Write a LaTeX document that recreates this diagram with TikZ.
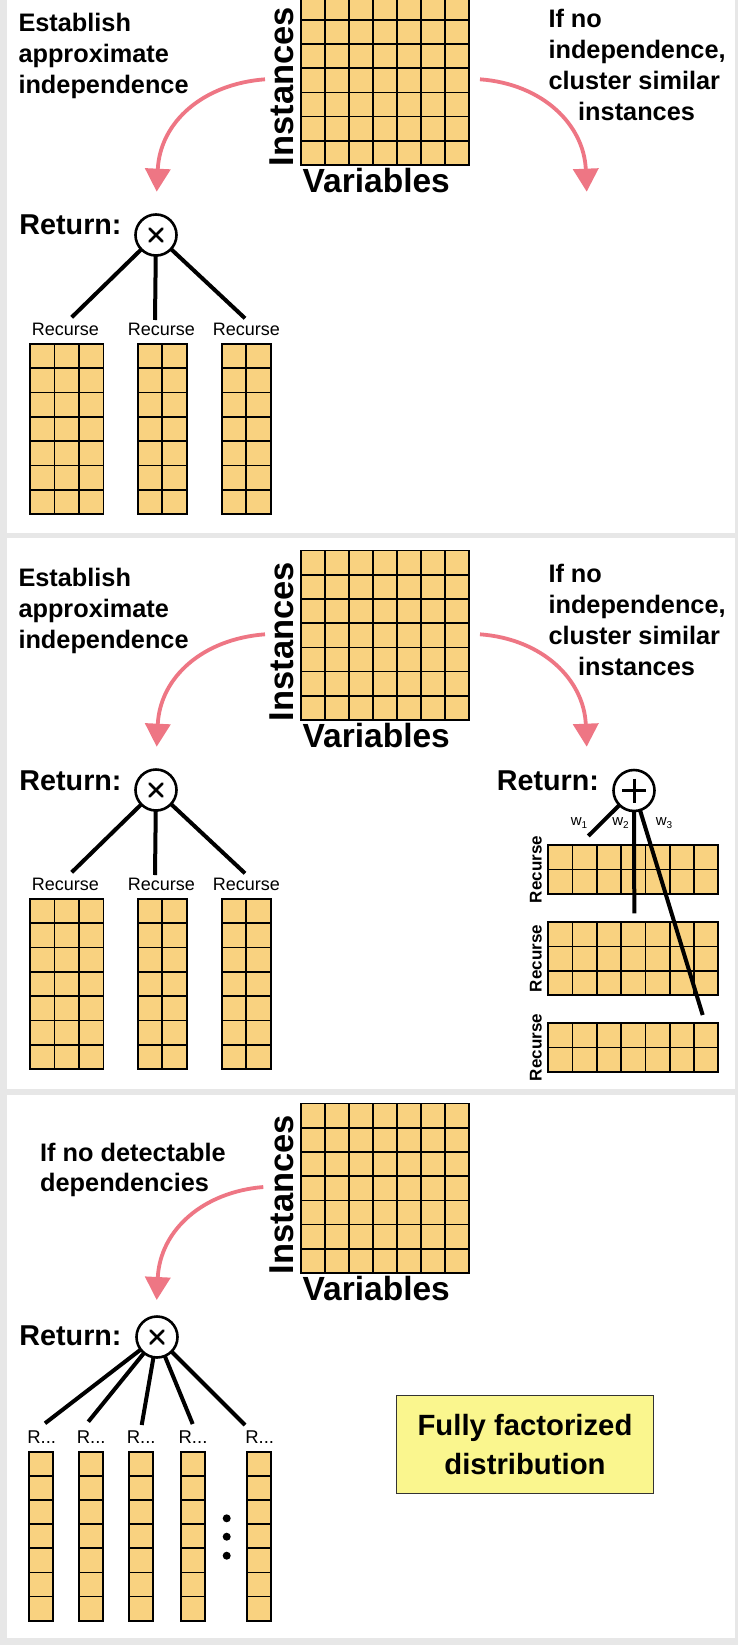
\documentclass[tikz,border=0pt]{standalone}
\usepackage{fontspec}
\setmainfont{Liberation Sans}
\usetikzlibrary{arrows.meta}
\definecolor{cellcol}{RGB}{249,210,128}
\definecolor{arrcol}{RGB}{238,118,132}
\definecolor{boxcol}{RGB}{250,246,142}
\definecolor{sepcol}{RGB}{231,231,231}
\newcommand{\fsz}[2]{\fontsize{#1}{#2}\selectfont}
\tikzset{
 gridbox/.style={draw=black,line width=1.7pt,fill=cellcol,inner sep=0pt,outer sep=0pt},
 gridline/.style={draw=black,line width=1.7pt},
 lbl/.style={font=\fsz{25.3}{31}\bfseries,inner sep=0pt,anchor=base west},
 rot/.style={rotate=90,anchor=base,inner sep=0pt},
 retlbl/.style={font=\fsz{28.7}{30}\bfseries,inner sep=0pt,anchor=base west},
 opnode/.style={circle,draw=black,line width=2.6pt,fill=white,minimum size=41pt,inner sep=0pt,outer sep=0pt},
 opsym/.style={draw=black,line width=2.8pt,line cap=round},
 branch/.style={draw=black,line width=4pt},
 pinkarr/.style={draw=arrcol,line width=3.8pt,-{Triangle[width=25pt,length=23pt]}},
 reclbl/.style={font=\fsz{18}{18},inner sep=0pt,anchor=base},
 rlbl/.style={font=\fsz{18.5}{18.5},inner sep=0pt,anchor=base},
 wlbl/.style={font=\fsz{15}{15},inner sep=0pt},
 ffbox/.style={draw=black!80,line width=1.5pt,fill=boxcol,minimum width=256.6pt,minimum height=97.6pt,align=center,font=\fsz{29.3}{38.3}\bfseries,inner sep=0pt}
}
\newcommand{\cellgrid}[7]{%
 \node[gridbox,anchor=north west,minimum width={(#4*#6)*1pt},minimum height={(#5*#7)*1pt}] (#1) at (#2,#3) {};
 \foreach \i in {1,...,#4}{\draw[gridline] (#1.north west) ++(\i*#6,0) -- ++(0,#5*#7);}
 \foreach \j in {1,...,#5}{\draw[gridline] (#1.north west) ++(0,\j*#7) -- ++(#4*#6,0);}
}
\newcommand{\topmatrix}[1]{%
 \cellgrid{M#1}{300.7}{-4.4}{7}{7}{24.05}{24.2}
 \node[rot,font=\fsz{34.5}{34.5}\bfseries] (I#1) at (293.8,86.5) {Instances};
 \node[lbl,font=\fsz{33.5}{33.5}\bfseries] (V#1) at (302.5,192.5) {Variables};
}
\newcommand{\leftprod}[1]{%
 \node[lbl] (ea#1) at (18.3,31.7) {Establish};
 \node[lbl] (eb#1) at (18.3,62.8) {approximate};
 \node[lbl] (ec#1) at (18.3,93.6) {independence};
 \coordinate (as#1) at (265,79.3);
 \coordinate (ae#1) at (156.7,191.7);
 \draw[pinkarr] (as#1) .. controls (203,84) and (160,122) .. (ae#1);
 \node[retlbl] (ret#1) at (19.3,235) {Return:};
 \node[opnode] (ox#1) at (156,235) {};
 \draw[opsym] (ox#1.center) ++(-6.5,-6.5) -- ++(13,13);
 \draw[opsym] (ox#1.center) ++(-6.5,6.5) -- ++(13,-13);
 \coordinate (la#1) at (71.7,317.3);
 \coordinate (lb#1) at (155,320);
 \coordinate (lc#1) at (245,318.3);
 \draw[branch] (ox#1) -- (la#1);
 \draw[branch] (ox#1) -- (lb#1);
 \draw[branch] (ox#1) -- (lc#1);
 \node[reclbl] (ra#1) at (65.3,335) {Recurse};
 \node[reclbl] (rb#1) at (161.3,335) {Recurse};
 \node[reclbl] (rc#1) at (246.3,335) {Recurse};
 \cellgrid{ga#1}{30}{344}{3}{7}{24.5}{24.3}
 \cellgrid{gb#1}{137.7}{344}{2}{7}{24.5}{24.3}
 \cellgrid{gc#1}{221.7}{344}{2}{7}{24.5}{24.3}
}
\newcommand{\rightclust}[1]{%
 \node[lbl] (ia#1) at (548.3,27.3) {If no};
 \node[lbl] (ib#1) at (548.3,58.4) {independence,};
 \node[lbl] (ic#1) at (548.3,89.5) {cluster similar};
 \node[lbl] (id#1) at (578,120.6) {instances};
 \coordinate (bs#1) at (480,79.3);
 \coordinate (be#1) at (586.7,191.7);
 \draw[pinkarr] (bs#1) .. controls (543,84) and (584,125) .. (be#1);
}
\begin{document}
\begin{tikzpicture}[x=1pt,y=-1pt]
\fill[sepcol] (0,0) rectangle (738,1645);
\fill[white] (7,0) rectangle (734.5,532.5);
\fill[white] (7,537.5) rectangle (734.5,1089);
\fill[white] (7,1094.5) rectangle (734.5,1638);
\useasboundingbox (0,0) rectangle (738,1645);
% ---------- panel 1
\leftprod{a}
\rightclust{a}
\topmatrix{a}
% ---------- panel 2
\begin{scope}[yshift=-555pt]
\leftprod{b}
\rightclust{b}
\topmatrix{b}
\end{scope}
\node[retlbl] (retsum) at (496.7,790.5) {Return:};
\node[opnode] (sum) at (634,790.5) {};
\draw[opsym,line cap=butt,line width=3pt] (sum.center) ++(-12,0) -- ++(24,0);
\draw[opsym,line cap=butt,line width=3pt] (sum.center) ++(0,-12) -- ++(0,24);
\cellgrid{cA}{548.3}{845}{7}{2}{24.29}{24.4}
\cellgrid{cB}{548.3}{922}{7}{3}{24.29}{24.4}
\cellgrid{cC}{548.3}{1023}{7}{2}{24.29}{24.4}
\node[wlbl] (w1) at (579,823) {w\raisebox{-3.5pt}{\fsz{10}{10}1}};
\node[wlbl] (w2) at (620.5,823) {w\raisebox{-3.5pt}{\fsz{10}{10}2}};
\node[wlbl] (w3) at (664,823) {w\raisebox{-3.5pt}{\fsz{10}{10}3}};
\coordinate (e1) at (588.3,836);
\coordinate (e2) at (634.3,913.3);
\coordinate (e3) at (702.7,1015);
\draw[branch] (sum) -- (e1);
\draw[branch] (sum) -- (e2);
\draw[branch] (sum) -- (e3);
\node[rot,font=\fsz{17}{17}\bfseries] (rA) at (541.7,869.5) {Recurse};
\node[rot,font=\fsz{17}{17}\bfseries] (rB) at (541.7,958.5) {Recurse};
\node[rot,font=\fsz{17}{17}\bfseries] (rC) at (541.7,1047.5) {Recurse};
% ---------- panel 3
\begin{scope}[yshift=-1108pt]
\topmatrix{c}
\end{scope}
\node[lbl] (da) at (40,1161.7) {If no detectable};
\node[lbl] (db) at (40,1191) {dependencies};
\coordinate (cs) at (263.3,1187);
\coordinate (ce) at (156.7,1300);
\draw[pinkarr] (cs) .. controls (203,1192) and (160,1230) .. (ce);
\node[retlbl] (retc) at (19.3,1345) {Return:};
\node[opnode] (oxc) at (157,1337) {};
\draw[opsym] (oxc.center) ++(-6.5,-6.5) -- ++(13,13);
\draw[opsym] (oxc.center) ++(-6.5,6.5) -- ++(13,-13);
\coordinate (f1) at (45,1423.3);
\coordinate (f2) at (88.3,1421.7);
\coordinate (f3) at (141.7,1425);
\coordinate (f4) at (192.7,1424);
\coordinate (f5) at (245,1425);
\foreach \k in {1,...,5}{\draw[branch] (oxc) -- (f\k);}
\node[rlbl] (q1) at (41.7,1443.3) {R...};
\node[rlbl] (q2) at (91.2,1443.3) {R...};
\node[rlbl] (q3) at (141.2,1443.3) {R...};
\node[rlbl] (q4) at (193,1443.3) {R...};
\node[rlbl] (q5) at (259.7,1443.3) {R...};
\cellgrid{k1}{29.3}{1451.7}{1}{7}{24}{24.15}
\cellgrid{k2}{79.3}{1451.7}{1}{7}{24}{24.15}
\cellgrid{k3}{129.3}{1451.7}{1}{7}{24}{24.15}
\cellgrid{k4}{180.7}{1451.7}{1}{7}{24}{24.15}
\cellgrid{k5}{247.3}{1451.7}{1}{7}{24}{24.15}
\fill (226.7,1518.3) circle[radius=4];
\fill (226.7,1536.7) circle[radius=4];
\fill (226.7,1555.7) circle[radius=4];
\node[ffbox] (ff) at (525,1444.5) {Fully factorized\\distribution};
\end{tikzpicture}
\end{document}
